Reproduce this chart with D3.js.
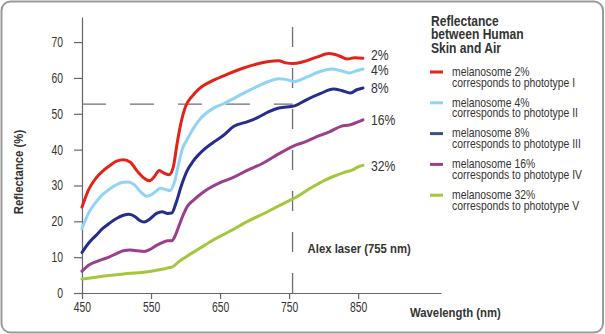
<!DOCTYPE html>
<html>
<head>
<meta charset="utf-8">
<script src="https://cdn.jsdelivr.net/npm/d3@7"></script>
<style>
  body { margin: 0; background: #fff; }
  svg { display: block; }
  text { font-family: "Liberation Sans", Arial, sans-serif; fill: #333; }
</style>
</head>
<body>
<div id="chart"></div>
<script>
// wavelength / reflectance readings for each melanosome level
var series_2 = [[450,24],[460,29],[470,32],[480,34],[490,35.5],[500,36.8],[510,37.2],[520,36.5],[530,34],[540,32],[548,31.3],[555,32.5],[562,34.2],[568,33.5],[576,33],[582,35],[588,42],[594,48],[600,52],[610,55],[620,57],[640,59.3],[660,61],[680,62.5],[700,63.7],[720,64.6],[735,64.8],[745,64.2],[756,64],[770,64.5],[790,65.8],[808,66.8],[822,66.2],[834,65.3],[845,65.6],[857,65.5]]
var series_4 = [[450,18],[460,22.5],[470,25.3],[480,27.5],[490,29],[500,30.2],[510,30.9],[517,31],[525,30.3],[535,28.2],[544,27],[552,27.6],[564,29.2],[572,28.8],[578,28.6],[584,31],[590,36],[596,40.5],[602,42.7],[610,45.5],[620,48.3],[640,51.5],[655,52.8],[670,54.3],[690,56.3],[705,57.7],[720,59],[735,59.8],[745,59.6],[758,59],[775,60.2],[795,61.8],[812,62.5],[825,62],[837,61.4],[848,62],[857,62.5]]
var series_8 = [[450,11.3],[460,14],[470,16],[480,18],[490,19.5],[500,20.8],[510,21.7],[518,22],[527,21.3],[533,20.3],[540,19.8],[548,20.6],[558,22.2],[566,22.7],[574,22.2],[580,22.3],[586,25],[594,30],[602,34],[611,36.8],[621,39],[640,42],[655,44],[670,46.5],[690,47.8],[705,49],[720,50.5],[735,51.6],[758,52.2],[775,53.9],[795,55.6],[814,56.9],[826,56.5],[839,55.8],[848,56.7],[857,57.2]]
var series_16 = [[450,6.1],[460,7.8],[470,8.7],[480,9.4],[490,10.1],[500,11],[510,11.8],[520,12],[530,11.8],[540,11.6],[548,12.1],[558,13.3],[568,14.2],[574,14.6],[580,14.6],[585,16],[590,18.5],[596,21.5],[602,24],[612,26],[626,28.2],[650,30.8],[670,32.3],[690,34.3],[712,36.2],[735,38.8],[756,41],[775,42.3],[790,43.6],[809,45],[825,46.5],[838,46.9],[848,47.6],[857,48.3]]
var series_32 = [[450,3.9],[480,4.7],[510,5.3],[540,5.8],[560,6.4],[575,7],[582,7.4],[590,8.7],[600,10],[620,12.4],[640,14.8],[660,16.8],[690,20],[720,22.8],[740,24.8],[758,26.5],[785,29.7],[800,31.3],[814,32.5],[829,33.6],[843,34.4],[850,35.2],[857,35.6]]

var end_labels = ["2%", "4%", "8%", "16%", "32%"]
var legend_lines = [
  ["melanosome 2%", "corresponds to phototype I"],
  ["melanosome 4%", "corresponds to phototype II"],
  ["melanosome 8%", "corresponds to phototype III"],
  ["melanosome 16%", "corresponds to phototype IV"],
  ["melanosome 32%", "corresponds to phototype V"]
]
var x_ticks = [450, 550, 650, 750, 850]
var y_ticks = [0, 10, 20, 30, 40, 50, 60, 70]
var laser_nm = 755
var laser_level = 52.7

var all_series = [series_2, series_4, series_8, series_16, series_32]
var line_colors = ["#e2231a", "#8fd4f4", "#262d8c", "#9b3f8c", "#a3c83c"]
var swatch_colors = ["#e2231a", "#8fd4f4", "#3f507f", "#9b3f8c", "#a3c83c"]
var label_dy = [-3, 1, 0, 0, 0]

var W = 605, H = 334

var svg = d3.select("#chart").append("svg")
    .attr("width", W)
    .attr("height", H)

// rounded frame
svg.append("rect")
    .attr("x", 1.5).attr("y", 1.5)
    .attr("width", W - 3.5).attr("height", H - 3)
    .attr("rx", 9).attr("ry", 9)
    .attr("fill", "#fff")
    .attr("stroke", "#9a9a9a")
    .attr("stroke-width", 2)

var x = d3.scaleLinear().domain([450, 970]).range([82, 441])
var y = d3.scaleLinear().domain([0, 77]).range([293, 17])

// axes
var xAxis = svg.append("g")
    .attr("transform", "translate(0," + y(0) + ")")
    .call(d3.axisBottom(x).tickValues(x_ticks).tickSize(6).tickPadding(3).tickSizeOuter(0))
var yAxis = svg.append("g")
    .attr("transform", "translate(" + x(450) + ",0)")
    .call(d3.axisLeft(y).tickValues(y_ticks).tickSize(8).tickPadding(11).tickSizeOuter(0))

;[xAxis, yAxis].forEach(function(a) {
  a.select(".domain").attr("stroke", "#666").attr("stroke-width", 1.2)
  a.selectAll(".tick line").attr("stroke", "#666").attr("stroke-width", 1.2)
  a.selectAll(".tick text").attr("fill", "#333").style("font-size", "14px")
      .attr("data-sx", 0.74)
})

// laser marker and its level
svg.append("line")
    .attr("x1", x(laser_nm)).attr("x2", x(laser_nm))
    .attr("y1", 27).attr("y2", y(0))
    .attr("stroke", "#6e6e6e").attr("stroke-width", 1.3)
    .attr("stroke-dasharray", "20,21")
svg.append("line")
    .attr("x1", x(450)).attr("x2", x(laser_nm))
    .attr("y1", y(laser_level)).attr("y2", y(laser_level))
    .attr("stroke", "#6e6e6e").attr("stroke-width", 1.3)
    .attr("stroke-dasharray", "24,24")

svg.append("text")
    .attr("x", x(laser_nm) + 15).attr("y", 253)
    .style("font-size", "13.5px").style("font-weight", "bold")
    .attr("fill", "#222")
    .text("Alex laser (755 nm)")

// curves
var valueline = d3.line()
    .curve(d3.curveMonotoneX)
    .x(function(d) { return x(d[0]) })
    .y(function(d) { return y(d[1]) })

all_series.forEach(function(s, i) {
  svg.append("path")
      .datum(s)
      .attr("fill", "none")
      .attr("stroke", line_colors[i])
      .attr("stroke-width", 3)
      .attr("stroke-linejoin", "round")
      .attr("stroke-linecap", "round")
      .attr("d", valueline)

  var last = s[s.length - 1]
  svg.append("text")
      .attr("x", x(last[0]) + 8)
      .attr("y", y(last[1]) + label_dy[i])
      .attr("dy", "0.36em")
      .attr("data-sx", 0.84)
      .style("font-size", "14.5px")
      .text(end_labels[i])
})

// axis titles
svg.append("text")
    .attr("x", 410).attr("y", 317)
    .style("font-size", "13.5px").style("font-weight", "bold")
    .attr("fill", "#222")
    .text("Wavelength (nm)")
svg.append("text")
    .attr("transform", "translate(23,172) rotate(-90)")
    .attr("text-anchor", "middle")
    .style("font-size", "13.5px").style("font-weight", "bold")
    .attr("fill", "#222")
    .text("Reflectance (%)")

// legend
var title = ["Reflectance", "between Human", "Skin and Air"]
svg.append("g").selectAll("text")
    .data(title)
    .enter().append("text")
    .attr("x", 431)
    .attr("y", function(d, i) { return 25.5 + i * 13.5 })
    .attr("data-sx", 0.78)
    .style("font-size", "15.5px").style("font-weight", "bold")
    .attr("fill", "#222")
    .text(function(d) { return d })

var item = svg.append("g").selectAll("g")
    .data(legend_lines)
    .enter().append("g")
    .attr("transform", function(d, i) { return "translate(0," + (72 + i * 30.8) + ")" })

item.append("line")
    .attr("x1", 430).attr("x2", 443)
    .attr("stroke", function(d, i) { return swatch_colors[i] })
    .attr("stroke-width", 3)
item.append("text")
    .attr("x", 452).attr("y", 3.8)
    .attr("data-sx", 0.8)
    .style("font-size", "13px")
    .text(function(d) { return d[0] })
item.append("text")
    .attr("x", 452).attr("y", 14.5)
    .attr("data-sx", 0.8)
    .style("font-size", "13px")
    .text(function(d) { return d[1] })

// narrow every label horizontally to get a condensed face
svg.selectAll("text").each(function() {
  var t = d3.select(this)
  var sx = +t.attr("data-sx") || 0.84
  var tr = t.attr("transform")
  if (tr) {
    t.attr("transform", tr + " scale(" + sx + ",1)")
  } else {
    var tx = +t.attr("x") || 0, ty = +t.attr("y") || 0
    t.attr("x", 0).attr("y", 0)
     .attr("transform", "translate(" + tx + "," + ty + ") scale(" + sx + ",1)")
  }
})
</script>
</body>
</html>
